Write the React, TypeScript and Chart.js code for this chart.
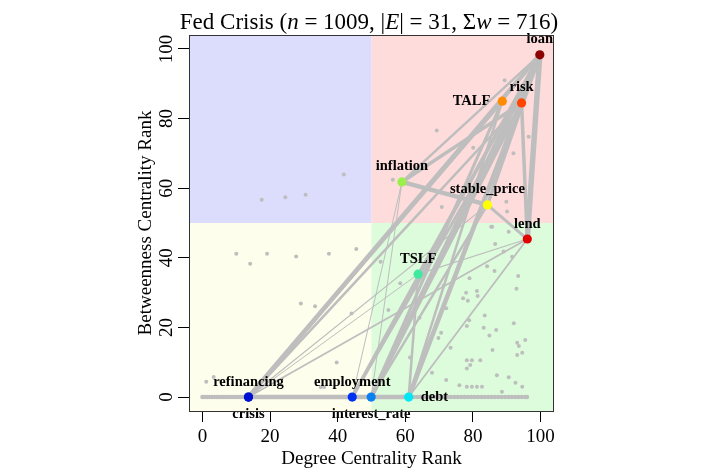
import React, { useEffect, useRef } from 'react';
import { Chart, registerables } from 'chart.js';

Chart.register(...registerables);

// ---------- data ----------
const nodeNames = ['loan', 'TALF', 'risk', 'inflation', 'stable_price', 'lend', 'TSLF', 'refinancing', 'crisis', 'employment', 'interest_rate', 'debt'];
const nodeDegreeRank = [99.8, 88.7, 94.4, 59.0, 84.3, 96.1, 63.8, 13.6, 13.6, 44.3, 49.9, 61.0];
const nodeBetweennessRank = [98.3, 85.0, 84.5, 61.8, 55.2, 45.4, 35.3, 0, 0, 0, 0, 0];
const nodeColors = ['#8b0000', '#ff8c00', '#ff4500', '#9cf04c', '#ffff00', '#e00000', '#40e8a0', '#0010d0', '#0010d0', '#0030f0', '#0a80f0', '#00e8f8'];
const labelSides = ['above', 'left', 'above', 'above', 'above', 'above', 'above', 'above', 'below', 'above', 'below', 'right'];

const edgeSource = ['crisis', 'crisis', 'crisis', 'crisis', 'crisis', 'crisis', 'employment', 'interest_rate', 'employment', 'employment', 'employment', 'interest_rate', 'interest_rate', 'interest_rate', 'interest_rate', 'interest_rate', 'debt', 'debt', 'debt', 'debt', 'debt', 'inflation', 'inflation', 'inflation', 'stable_price', 'stable_price', 'lend', 'lend', 'TSLF', 'TSLF', 'refinancing'];
const edgeTarget = ['loan', 'TALF', 'risk', 'lend', 'stable_price', 'employment', 'interest_rate', 'debt', 'loan', 'risk', 'inflation', 'loan', 'risk', 'TALF', 'stable_price', 'inflation', 'loan', 'risk', 'TALF', 'lend', 'TSLF', 'stable_price', 'risk', 'loan', 'lend', 'loan', 'loan', 'risk', 'loan', 'lend', 'TSLF'];
const edgeWidths = [4.5, 3.5, 2.5, 1.8, 1.2, 4.5, 4.5, 4.5, 3.5, 3, 1, 4.5, 3.5, 3, 2.5, 1, 4.5, 3.5, 2.5, 1.8, 2.5, 4.5, 3.5, 2.5, 3, 3.5, 5.5, 3.5, 2.5, 1.2, 1];

const otherDegreeRank = [
  17.5, 24.5, 30.5, 41.8,
  10, 14.1, 19.1, 27.7, 37.4, 45.5, 29.1, 33.3, 44.1, 39.7, 1.1, 3.3, 35, 36,
  85.4, 90.6, 86.6, 89.1, 91.6, 52.7, 84.2, 86.4, 93.4, 79, 58.5, 71.3, 92.9, 78, 81.2, 77.1, 78.5, 81.4, 72.1, 55, 64.2, 83.5, 92.1, 78.9, 78.2, 83.2, 86.9, 70.6, 69.8, 84.9, 95.5, 93.1, 93.6, 73.4, 85.8, 94.6, 93.1, 61.4, 78.2, 79.7, 79.2, 78.2, 82.2, 67.9, 72.1, 76, 78.2, 79.7, 81.2, 82.7, 87.1, 90.6, 92.6, 94.6, 88.6,
  89.4, 69.3, 56.3, 70.8, 89.9, 90.1, 96.5, 92, 80.1, 85.7,
];
const otherBetweennessRank = [
  56.7, 57.4, 58.1, 63.9,
  41.2, 38.3, 41.2, 40.4, 41.2, 42.5, 26.9, 26.1, 24, 9.9, 4.4, 5.8, 2.8, 2.9,
  48.9, 47.5, 44, 41.8, 40.3, 38.9, 37.6, 36.2, 34.8, 34.1, 32.7, 32, 31.1, 30, 30.5, 28.4, 27.7, 29, 25.5, 25, 22.8, 23.4, 21.2, 22.1, 20.4, 19.9, 19.3, 18.5, 17, 17.7, 16.4, 15.6, 14.7, 14.2, 13.5, 12.7, 12.1, 11.4, 10.6, 10.6, 9.2, 8.2, 10.6, 7, 4.9, 3.4, 3, 3, 3, 3, 6.3, 5.7, 4.1, 3, 1.5,
  91, 76.6, 62.4, 54.6, 56.1, 53.3, 74.8, 70, 71.6, 48.9,
];
// terms whose betweenness rank is zero (the dense row along the bottom)
const zeroRowDegreeRank = [0, 0.7, 1.4, 2.1, 2.8, 3.5, 4.2, 4.9, 5.6, 6.3, 7, 7.7, 8.4, 9.1, 9.8, 10.5, 11.2, 11.9, 12.6, 62.5, 63.5, 64.5, 65.5, 66.5, 67.5, 68.5, 69.5, 70.5, 71.5, 72.5, 73.5, 74.5, 75.5, 76.5, 77.5, 78.5, 79.5, 80.5, 81.5, 82.5, 83.5, 84.5, 85.5, 86.5, 87.5, 88.5, 89.5, 90.5, 91.5, 92.5, 93.5, 94.5, 95.5, 96];

const tickValues = [0, 20, 40, 60, 80, 100];
const quadrantSplit = 50;
const quadrantColors = { topLeft: '#dcdcfc', topRight: '#fedcdc', bottomLeft: '#fefeec', bottomRight: '#dcfcdc' };

const titleParts: [string, boolean][] = [
  ['Fed Crisis (', false], ['n', true], [' = 1009, |', false], ['E', true], ['| = 31, \u03A3', false], ['w', true], [' = 716)', false],
];

const SERIF = '"Liberation Serif", "Times New Roman", serif';
const GRAY = '#bebebe';

export default function App() {
  const ref = useRef<HTMLCanvasElement | null>(null);

  useEffect(() => {
    if (!ref.current) return;
    const idx = (n: string) => nodeNames.indexOf(n);

    const edgeDatasets = edgeSource.map((s, i) => {
      const a = idx(s), b = idx(edgeTarget[i]);
      return {
        data: [
          { x: nodeDegreeRank[a], y: nodeBetweennessRank[a] },
          { x: nodeDegreeRank[b], y: nodeBetweennessRank[b] },
        ],
        showLine: true,
        borderColor: GRAY,
        borderWidth: edgeWidths[i],
        borderCapStyle: 'round' as const,
        pointRadius: 0,
        order: 3,
      };
    });

    const decor = {
      id: 'decor',
      beforeDatasetsDraw(chart: any) {
        const { ctx, chartArea: a, scales } = chart;
        const mx = scales.x.getPixelForValue(quadrantSplit);
        const my = scales.y.getPixelForValue(quadrantSplit);
        ctx.save();
        ctx.fillStyle = quadrantColors.topLeft; ctx.fillRect(a.left, a.top, mx - a.left, my - a.top);
        ctx.fillStyle = quadrantColors.topRight; ctx.fillRect(mx, a.top, a.right - mx, my - a.top);
        ctx.fillStyle = quadrantColors.bottomLeft; ctx.fillRect(a.left, my, mx - a.left, a.bottom - my);
        ctx.fillStyle = quadrantColors.bottomRight; ctx.fillRect(mx, my, a.right - mx, a.bottom - my);
        ctx.restore();
      },
      afterDatasetsDraw(chart: any) {
        const { ctx, chartArea: a, scales } = chart;
        ctx.save();
        // node labels
        ctx.font = `bold 14.5px ${SERIF}`;
        ctx.fillStyle = '#000';
        nodeNames.forEach((n, i) => {
          const px = scales.x.getPixelForValue(nodeDegreeRank[i]);
          const py = scales.y.getPixelForValue(nodeBetweennessRank[i]);
          const side = labelSides[i];
          if (side === 'above') { ctx.textAlign = 'center'; ctx.textBaseline = 'alphabetic'; ctx.fillText(n, px, py - 11.5); }
          else if (side === 'below') { ctx.textAlign = 'center'; ctx.textBaseline = 'alphabetic'; ctx.fillText(n, px, py + 20.5); }
          else if (side === 'left') { ctx.textAlign = 'right'; ctx.textBaseline = 'middle'; ctx.fillText(n, px - 12, py); }
          else { ctx.textAlign = 'left'; ctx.textBaseline = 'middle'; ctx.fillText(n, px + 12, py); }
        });
        // plot box
        ctx.strokeStyle = '#333';
        ctx.lineWidth = 1;
        ctx.strokeRect(a.left + 0.5, a.top + 0.5, a.right - a.left - 1, a.bottom - a.top);
        ctx.restore();
      },
      afterDraw(chart: any) {
        const { ctx, chartArea: a, scales } = chart;
        ctx.save();
        ctx.fillStyle = '#000';
        // title
        const size = 23;
        let total = 0;
        const fonts = titleParts.map(([t, it]) => {
          const f = `${it ? 'italic ' : ''}${size}px ${SERIF}`;
          ctx.font = f;
          const w = ctx.measureText(t).width;
          total += w;
          return { t, f, w };
        });
        let x = 369 - total / 2;
        ctx.textBaseline = 'alphabetic';
        ctx.textAlign = 'left';
        fonts.forEach(({ t, f, w }) => { ctx.font = f; ctx.fillText(t, x, 28.5); x += w; });
        // axis titles
        ctx.font = `19px ${SERIF}`;
        ctx.textAlign = 'center';
        ctx.fillText('Degree Centrality Rank', (a.left + a.right) / 2, 464);
        ctx.save();
        ctx.translate(151, (a.top + a.bottom) / 2);
        ctx.rotate(-Math.PI / 2);
        ctx.fillText('Betweenness Centrality Rank', 0, 0);
        ctx.restore();
        // y tick labels (rotated, as in R)
        tickValues.forEach((v) => {
          const py = scales.y.getPixelForValue(v);
          ctx.save();
          ctx.translate(172, py);
          ctx.rotate(-Math.PI / 2);
          ctx.fillText(String(v), 0, 0);
          ctx.restore();
        });
        ctx.restore();
      },
    };

    const chart = new Chart(ref.current, {
      type: 'scatter',
      data: {
        datasets: [
          {
            data: nodeNames.map((_, i) => ({ x: nodeDegreeRank[i], y: nodeBetweennessRank[i] })),
            pointBackgroundColor: nodeColors,
            pointBorderWidth: 0,
            pointRadius: 4.6,
            order: 0,
          },
          {
            data: otherDegreeRank.map((v, i) => ({ x: v, y: otherBetweennessRank[i] })),
            pointBackgroundColor: GRAY,
            pointBorderWidth: 0,
            pointRadius: 2,
            order: 1,
          },
          {
            data: zeroRowDegreeRank.map((v) => ({ x: v, y: 0 })),
            pointBackgroundColor: GRAY,
            pointBorderWidth: 0,
            pointRadius: 2.3,
            order: 2,
          },
          ...edgeDatasets,
        ] as any,
      },
      options: {
        animation: false,
        responsive: true,
        maintainAspectRatio: false,
        events: [],
        layout: { padding: { top: 35, right: 158, left: 0, bottom: 0 } },
        plugins: { legend: { display: false }, tooltip: { enabled: false }, title: { display: false } },
        scales: {
          x: {
            type: 'linear',
            min: -4,
            max: 104,
            afterBuildTicks: (s: any) => { s.ticks = tickValues.map((v) => ({ value: v })); },
            afterFit: (s: any) => { s.height = 61; },
            grid: { drawOnChartArea: false, tickLength: 11, color: '#000', tickColor: '#000' },
            border: { display: false },
            ticks: { font: { family: SERIF, size: 19 }, color: '#000', padding: 4, maxRotation: 0, autoSkip: false },
          },
          y: {
            type: 'linear',
            min: -4,
            max: 104,
            afterBuildTicks: (s: any) => { s.ticks = tickValues.map((v) => ({ value: v })); },
            afterFit: (s: any) => { s.width = 189; },
            grid: { drawOnChartArea: false, tickLength: 11, color: '#000', tickColor: '#000' },
            border: { display: false },
            ticks: { callback: () => '', autoSkip: false },
          },
        },
      },
      plugins: [decor],
    });
    return () => chart.destroy();
  }, []);

  return (
    <div style={{ position: 'absolute', left: 0, top: 0, width: 712, height: 472, background: '#fff' }}>
      <canvas ref={ref} />
    </div>
  );
}
